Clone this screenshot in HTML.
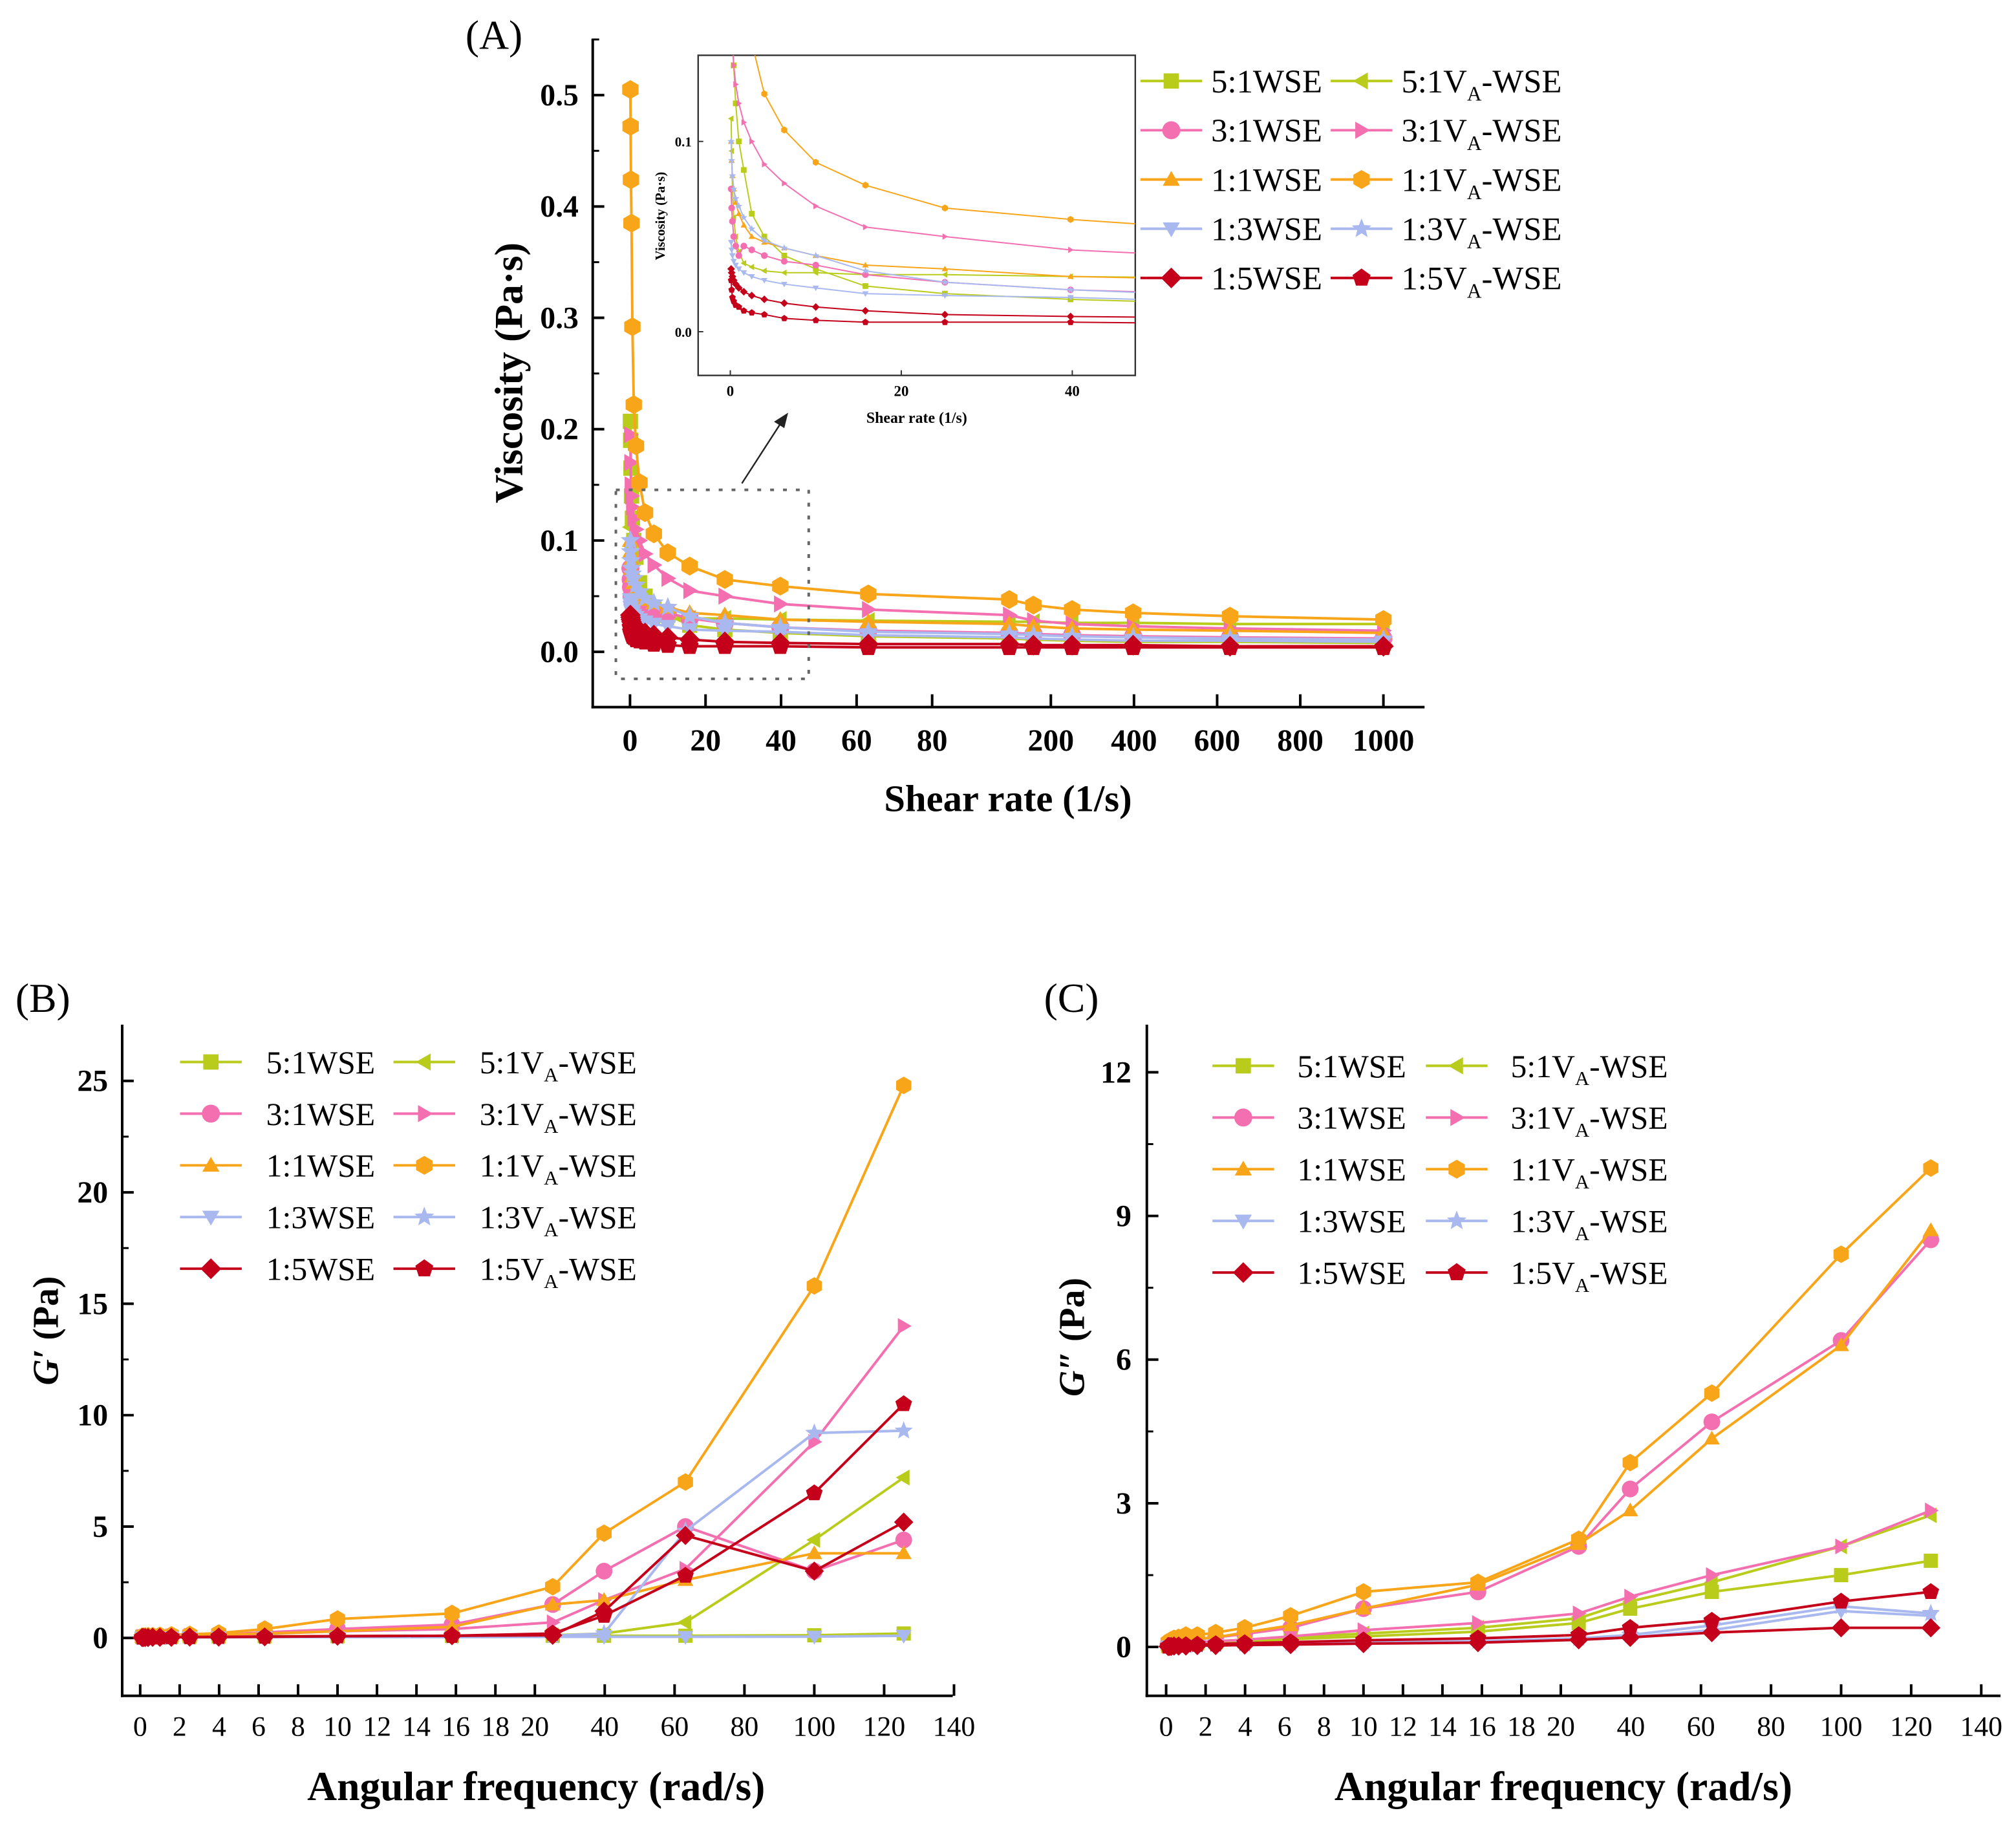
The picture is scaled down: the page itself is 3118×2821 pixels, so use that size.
<!DOCTYPE html>
<html><head><meta charset="utf-8"><style>
html,body{margin:0;padding:0;background:#fff}
svg{display:block}
text{font-family:"Liberation Serif",serif}
</style></head><body>
<svg id="fig" width="3118" height="2821" viewBox="0 0 1568 1418.7" xmlns="http://www.w3.org/2000/svg"></svg>
<script>
// ---------- DATA ----------
const shearRates=[0.1,0.158,0.251,0.398,0.631,1,1.58,2.51,3.98,6.31,10,15.8,25.1,39.8,63.1,100,158,251,398,631,1000];
const seriesNames=["5:1WSE","5:1VA-WSE","3:1WSE","3:1VA-WSE","1:1WSE","1:1VA-WSE","1:3WSE","1:3VA-WSE","1:5WSE","1:5VA-WSE"];
const visc51=[0.207,0.19,0.165,0.14,0.12,0.1,0.085,0.062,0.05,0.04,0.033,0.024,0.02,0.017,0.014,0.012,0.011,0.01,0.009,0.009,0.008];
const visc51V=[0.112,0.095,0.075,0.06,0.05,0.042,0.036,0.034,0.032,0.031,0.031,0.030,0.030,0.029,0.028,0.027,0.027,0.026,0.026,0.025,0.025];
const visc31=[0.075,0.065,0.058,0.05,0.045,0.04,0.045,0.043,0.04,0.037,0.035,0.03,0.026,0.022,0.019,0.017,0.016,0.015,0.014,0.013,0.012];
const visc31V=[0.195,0.17,0.15,0.14,0.13,0.12,0.11,0.1,0.088,0.078,0.066,0.055,0.05,0.043,0.038,0.033,0.028,0.025,0.023,0.021,0.019];
const visc11=[0.1,0.09,0.082,0.075,0.068,0.062,0.056,0.05,0.047,0.044,0.04,0.035,0.033,0.029,0.027,0.025,0.023,0.021,0.02,0.019,0.017];
const visc11V=[0.505,0.472,0.424,0.385,0.292,0.222,0.185,0.152,0.125,0.106,0.089,0.077,0.065,0.059,0.052,0.047,0.042,0.038,0.035,0.032,0.029];
const visc13=[0.047,0.043,0.04,0.037,0.035,0.033,0.031,0.029,0.027,0.025,0.023,0.02,0.019,0.018,0.015,0.013,0.012,0.011,0.01,0.01,0.009];
const visc13V=[0.1,0.09,0.082,0.075,0.07,0.066,0.06,0.054,0.048,0.044,0.04,0.032,0.026,0.022,0.018,0.016,0.015,0.014,0.013,0.012,0.011];
const visc15=[0.033,0.031,0.029,0.027,0.025,0.023,0.021,0.019,0.017,0.015,0.013,0.011,0.009,0.008,0.007,0.007,0.006,0.006,0.006,0.005,0.005];
const visc15V=[0.027,0.022,0.018,0.016,0.014,0.013,0.011,0.01,0.009,0.007,0.006,0.005,0.005,0.005,0.004,0.004,0.004,0.004,0.004,0.004,0.004];

const angFreq=[0.1,0.158,0.251,0.398,0.631,1,1.58,2.51,3.98,6.31,10,15.8,25.1,39.8,63.1,100,125.6];
const gp51=[0.05,0.05,0.05,0.05,0.05,0.06,0.06,0.07,0.07,0.08,0.08,0.09,0.1,0.1,0.1,0.12,0.2];
const gp51V=[0.03,0.03,0.03,0.03,0.04,0.04,0.05,0.05,0.06,0.07,0.08,0.1,0.12,0.2,0.7,4.4,7.2];
const gp31=[0.05,0.05,0.06,0.06,0.07,0.08,0.1,0.12,0.15,0.25,0.4,0.6,1.5,3.0,5.0,3.0,4.4];
const gp31V=[0.05,0.05,0.05,0.06,0.06,0.07,0.08,0.1,0.12,0.18,0.3,0.4,0.7,1.7,3.1,8.8,14.0];
const gp11=[0.05,0.05,0.06,0.07,0.08,0.09,0.1,0.12,0.15,0.2,0.3,0.5,1.5,1.7,2.6,3.8,3.8];
const gp11V=[0.08,0.08,0.09,0.1,0.1,0.12,0.14,0.16,0.22,0.4,0.85,1.1,2.3,4.7,7.0,15.8,24.8];
const gp13=[0.02,0.02,0.02,0.02,0.02,0.03,0.03,0.03,0.03,0.04,0.04,0.04,0.05,0.05,0.05,0.06,0.1];
const gp13V=[0.02,0.02,0.02,0.03,0.03,0.03,0.03,0.04,0.04,0.05,0.06,0.08,0.1,0.2,4.8,9.2,9.3];
const gp15=[0.02,0.02,0.02,0.02,0.03,0.03,0.03,0.04,0.04,0.05,0.08,0.1,0.12,1.2,4.6,3.0,5.2];
const gp15V=[0.02,0.02,0.02,0.03,0.03,0.03,0.04,0.04,0.05,0.06,0.08,0.1,0.2,1.0,2.8,6.5,10.5];

const gpp51=[0.02,0.03,0.04,0.05,0.06,0.07,0.08,0.1,0.12,0.16,0.22,0.32,0.5,0.8,1.15,1.5,1.8];
const gpp51V=[0.03,0.04,0.05,0.06,0.07,0.08,0.09,0.12,0.15,0.2,0.28,0.4,0.6,0.95,1.35,2.1,2.75];
const gpp31=[0.05,0.06,0.08,0.1,0.12,0.14,0.16,0.2,0.27,0.4,0.8,1.15,2.1,3.3,4.7,6.4,8.5];
const gpp31V=[0.03,0.04,0.05,0.06,0.07,0.08,0.1,0.12,0.15,0.22,0.35,0.5,0.7,1.05,1.5,2.1,2.85];
const gpp11=[0.05,0.06,0.08,0.1,0.12,0.14,0.17,0.2,0.3,0.45,0.8,1.3,2.15,2.85,4.35,6.3,8.7];
const gpp11V=[0.1,0.12,0.15,0.18,0.2,0.25,0.25,0.3,0.4,0.65,1.15,1.35,2.25,3.85,5.3,8.2,10.0];
const gpp13=[0.01,0.01,0.02,0.02,0.02,0.03,0.03,0.04,0.05,0.06,0.08,0.1,0.15,0.2,0.35,0.75,0.65];
const gpp13V=[0.01,0.02,0.02,0.02,0.03,0.03,0.04,0.05,0.06,0.07,0.1,0.12,0.18,0.25,0.45,0.85,0.7];
const gpp15=[0.01,0.01,0.01,0.02,0.02,0.02,0.03,0.03,0.04,0.05,0.07,0.09,0.15,0.2,0.3,0.4,0.4];
const gpp15V=[0.01,0.02,0.02,0.03,0.03,0.04,0.05,0.06,0.08,0.1,0.14,0.18,0.25,0.4,0.55,0.95,1.15];

const tickA_x=[0,20,40,60,80,200,400,600,800,1000];
const tickA_y=[0,0.1,0.2,0.3,0.4,0.5];
const tickInset_x=[0,20,40];
const tickInset_y=[0,0.1];
const tickBC_x=[0,2,4,6,8,10,12,14,16,18,20,40,60,80,100,120,140];
const tickB_y=[0,5,10,15,20,25];
const tickC_y=[0,3,6,9,12];

// ---------- STYLE ----------
const GREEN="#b9cc1c",PINK="#f46fb0",ORANGE="#f9a51a",BLUE="#a9b9ef",RED="#c4001a";
const styles=[[GREEN,"square"],[GREEN,"left"],[PINK,"circle"],[PINK,"right"],[ORANGE,"up"],[ORANGE,"hex"],[BLUE,"down"],[BLUE,"star"],[RED,"diamond"],[RED,"pent"]];
const NS="http://www.w3.org/2000/svg";
const svg=document.getElementById('fig');
function el(tag,attrs,parent,txt){const e=document.createElementNS(NS,tag);for(const k in attrs)e.setAttribute(k,attrs[k]);if(txt!==undefined)e.textContent=txt;(parent||svg).appendChild(e);return e;}
function pw(d,r){return v=>{for(let i=0;i<d.length-1;i++){if(v<=d[i+1]||i===d.length-2){return r[i]+(v-d[i])*(r[i+1]-r[i])/(d[i+1]-d[i]);}}};}
function poly(n,x,y,r,rot){let p=[];for(let i=0;i<n;i++){const a=rot+i*2*Math.PI/n;p.push((x+r*Math.cos(a)).toFixed(2)+","+(y+r*Math.sin(a)).toFixed(2));}return p.join(" ");}
function marker(g,shape,x,y,r,c){
  let e;
  if(shape==="circle")e=el('circle',{cx:x,cy:y,r:r,fill:c},g);
  else if(shape==="square")e=el('rect',{x:x-r*0.85,y:y-r*0.85,width:r*1.7,height:r*1.7,fill:c},g);
  else if(shape==="up")e=el('polygon',{points:poly(3,x,y+r*0.15,r*1.1,-Math.PI/2),fill:c},g);
  else if(shape==="down")e=el('polygon',{points:poly(3,x,y-r*0.15,r*1.1,Math.PI/2),fill:c},g);
  else if(shape==="left")e=el('polygon',{points:poly(3,x+r*0.15,y,r*1.1,Math.PI),fill:c},g);
  else if(shape==="right")e=el('polygon',{points:poly(3,x-r*0.15,y,r*1.1,0),fill:c},g);
  else if(shape==="diamond")e=el('polygon',{points:poly(4,x,y,r*1.15,0),fill:c},g);
  else if(shape==="hex")e=el('polygon',{points:poly(6,x,y,r*1.05,-Math.PI/2),fill:c},g);
  else if(shape==="pent")e=el('polygon',{points:poly(5,x,y,r*1.05,-Math.PI/2),fill:c},g);
  else if(shape==="star"){let p=[];for(let i=0;i<10;i++){const a=-Math.PI/2+i*Math.PI/5,rr=i%2?r*0.5:r*1.15;p.push((x+rr*Math.cos(a)).toFixed(2)+","+(y+rr*Math.sin(a)).toFixed(2));}e=el('polygon',{points:p.join(" "),fill:c},g);}
  
  
}
function drawSeries(g,xs,ys,sx,sy,idx,r,lw,name){
  const [c,sh]=styles[idx];
  const sg=el('g',{},g);
  
  
  const pts=xs.map((x,i)=>sx(x).toFixed(2)+","+sy(ys[i]).toFixed(2)).join(" ");
  const pl=el('polyline',{points:pts,fill:'none',stroke:c,'stroke-width':lw},sg);
  
  
  xs.forEach((x,i)=>marker(sg,sh,sx(x),sy(ys[i]),r,c));
}
function legend(x0,y0,dx,dy,fs,toff,parent){
  const g=el('g',{},parent);
  
  
  for(let i=0;i<10;i++){
    const col=i%2,row=Math.floor(i/2);
    const x=x0+col*dx,y=y0+row*dy;const [c,sh]=styles[i];
    const eg=el('g',{},g);
    
    
    el('line',{x1:x,y1:y,x2:x+48,y2:y,stroke:c,'stroke-width':2},eg);
    marker(eg,sh,x+24,y,7,c);
    const n=seriesNames[i];
    const t=el('text',{x:x+toff,y:y+fs*0.35,'font-size':fs},eg);
    if(n.includes("VA")){const p=n.split("VA");t.appendChild(document.createTextNode(p[0]+"V"));const s=el('tspan',{'font-size':fs*0.62,dy:fs*0.25},t,"A");el('tspan',{dy:-fs*0.25},t,p[1]);}
    else t.textContent=n;
  }
}

// ---------- PANEL A ----------
const gA=el('g',{});


const xA=pw([0,80,100,1000],[490,725,785,1076]);
const yA=v=>507-v*866;
el('text',{x:362,y:38,'font-size':32},gA,"(A)");
el('line',{x1:461,y1:30,x2:461,y2:551,stroke:'#000','stroke-width':2},gA);
el('line',{x1:460,y1:550,x2:1108,y2:550,stroke:'#000','stroke-width':2},gA);
tickA_y.forEach(v=>{el('line',{x1:461,y1:yA(v),x2:470,y2:yA(v),stroke:'#000','stroke-width':2},gA);
  el('line',{x1:461,y1:yA(v+0.05),x2:466,y2:yA(v+0.05),stroke:'#000','stroke-width':1.5},gA);
  el('text',{x:450,y:yA(v)+8,'font-size':24,'font-weight':'bold','text-anchor':'end'},gA,v.toFixed(1));});
tickA_x.forEach(v=>{el('line',{x1:xA(v),y1:550,x2:xA(v),y2:540,stroke:'#000','stroke-width':2},gA);
  el('text',{x:xA(v),y:584,'font-size':24,'font-weight':'bold','text-anchor':'middle'},gA,String(v));});
el('text',{x:784,y:631,'font-size':29.5,'font-weight':'bold','text-anchor':'middle'},gA,"Shear rate (1/s)");
el('text',{x:0,y:0,'font-size':31,'font-weight':'bold','text-anchor':'middle',transform:'translate(406,290) rotate(-90)'},gA,"Viscosity (Pa·s)");
const viscAll=[visc51,visc51V,visc31,visc31V,visc11,visc11V,visc13,visc13V,visc15,visc15V];
viscAll.forEach((s,i)=>drawSeries(gA,shearRates,s,xA,yA,i,7,2,seriesNames[i]));
el('rect',{x:479,y:381,width:150,height:147,fill:'none',stroke:'#666','stroke-width':2,'stroke-dasharray':'3,7'},gA);
el('line',{x1:577,y1:376,x2:608,y2:328,stroke:'#222','stroke-width':1.2},gA);
el('polygon',{points:"613,321 602,328 610,333",fill:'#222'},gA);
// inset
const gI=el('g',{},gA);


el('rect',{x:543,y:43,width:340,height:249,fill:'#fff',stroke:'#333','stroke-width':1.2},gI);
el('clipPath',{id:'ic'},gI).appendChild(el('rect',{x:543,y:43,width:340,height:249},gI));
const xI=v=>568+v*6.65,yI=v=>258-v*1480;
tickInset_x.forEach(v=>{el('line',{x1:xI(v),y1:292,x2:xI(v),y2:288,stroke:'#333'},gI);el('text',{x:xI(v),y:308,'font-size':11.5,'font-weight':'bold','text-anchor':'middle'},gI,String(v));});
tickInset_y.forEach(v=>{el('line',{x1:543,y1:yI(v),x2:547,y2:yI(v),stroke:'#333'},gI);el('text',{x:538,y:yI(v)+4,'font-size':10.5,'font-weight':'bold','text-anchor':'end'},gI,v.toFixed(1));});
el('text',{x:713,y:329,'font-size':12,'font-weight':'bold','text-anchor':'middle'},gI,"Shear rate (1/s)");
el('text',{x:0,y:0,'font-size':10.5,'font-weight':'bold','text-anchor':'middle',transform:'translate(517,168) rotate(-90)'},gI,"Viscosity (Pa·s)");
const gIc=el('g',{'clip-path':'url(#ic)'},gI);
viscAll.forEach((s,i)=>drawSeries(gIc,shearRates,s,xI,yI,i,2.6,1,seriesNames[i]));
legend(887,63,148,38.3,25.5,55,gA);

// ---------- PANEL B ----------
const gB=el('g',{});


const xB=pw([0,20,140],[109,416,742]);const yB=v=>1274-v*17.33;
el('text',{x:12,y:787,'font-size':32},gB,"(B)");
el('line',{x1:95,y1:797,x2:95,y2:1320,stroke:'#000','stroke-width':2},gB);
el('line',{x1:94,y1:1319,x2:741,y2:1319,stroke:'#000','stroke-width':2},gB);
tickB_y.forEach(v=>{el('line',{x1:95,y1:yB(v),x2:104,y2:yB(v),stroke:'#000','stroke-width':2},gB);
  if(yB(v+2.5)>800)el('line',{x1:95,y1:yB(v+2.5),x2:100,y2:yB(v+2.5),stroke:'#000','stroke-width':1.5},gB);
  el('text',{x:84,y:yB(v)+8,'font-size':24,'font-weight':'bold','text-anchor':'end'},gB,String(v));});
tickBC_x.forEach(v=>{el('line',{x1:xB(v),y1:1319,x2:xB(v),y2:1310,stroke:'#000','stroke-width':2},gB);
  el('text',{x:xB(v),y:1350,'font-size':22,'text-anchor':'middle'},gB,String(v));});
el('text',{x:417,y:1400,'font-size':32,'font-weight':'bold','text-anchor':'middle'},gB,"Angular frequency (rad/s)");
const tB=el('text',{x:0,y:0,'font-size':28,'font-weight':'bold','text-anchor':'middle',transform:'translate(45,1035) rotate(-90)'},gB);
el('tspan',{'font-style':'italic'},tB,"G′");el('tspan',{},tB," (Pa)");
[gp51,gp51V,gp31,gp31V,gp11,gp11V,gp13,gp13V,gp15,gp15V].forEach((s,i)=>drawSeries(gB,angFreq,s,xB,yB,i,6.5,2,seriesNames[i]));
legend(140,826,166,40.2,25,67,gB);

// ---------- PANEL C ----------
const gC=el('g',{});


const xC=pw([0,20,140],[907,1214,1541]);const yC=v=>1281-v*37.25;
el('text',{x:812,y:787,'font-size':32},gC,"(C)");
el('line',{x1:892,y1:797,x2:892,y2:1320,stroke:'#000','stroke-width':2},gC);
el('line',{x1:891,y1:1319,x2:1556,y2:1319,stroke:'#000','stroke-width':2},gC);
tickC_y.forEach(v=>{el('line',{x1:892,y1:yC(v),x2:901,y2:yC(v),stroke:'#000','stroke-width':2},gC);
  if(yC(v+1.5)>800)el('line',{x1:892,y1:yC(v+1.5),x2:897,y2:yC(v+1.5),stroke:'#000','stroke-width':1.5},gC);
  el('text',{x:880,y:yC(v)+8,'font-size':24,'font-weight':'bold','text-anchor':'end'},gC,String(v));});
tickBC_x.forEach(v=>{el('line',{x1:xC(v),y1:1319,x2:xC(v),y2:1310,stroke:'#000','stroke-width':2},gC);
  el('text',{x:xC(v),y:1350,'font-size':22,'text-anchor':'middle'},gC,String(v));});
el('text',{x:1216,y:1400,'font-size':32,'font-weight':'bold','text-anchor':'middle'},gC,"Angular frequency (rad/s)");
const tC=el('text',{x:0,y:0,'font-size':28,'font-weight':'bold','text-anchor':'middle',transform:'translate(843,1040) rotate(-90)'},gC);
el('tspan',{'font-style':'italic'},tC,"G″");el('tspan',{},tC," (Pa)");
[gpp51,gpp51V,gpp31,gpp31V,gpp11,gpp11V,gpp13,gpp13V,gpp15,gpp15V].forEach((s,i)=>drawSeries(gC,angFreq,s,xC,yC,i,6.5,2,seriesNames[i]));
legend(943,829,166,40.2,25,66,gC);
</script>
</body></html>
